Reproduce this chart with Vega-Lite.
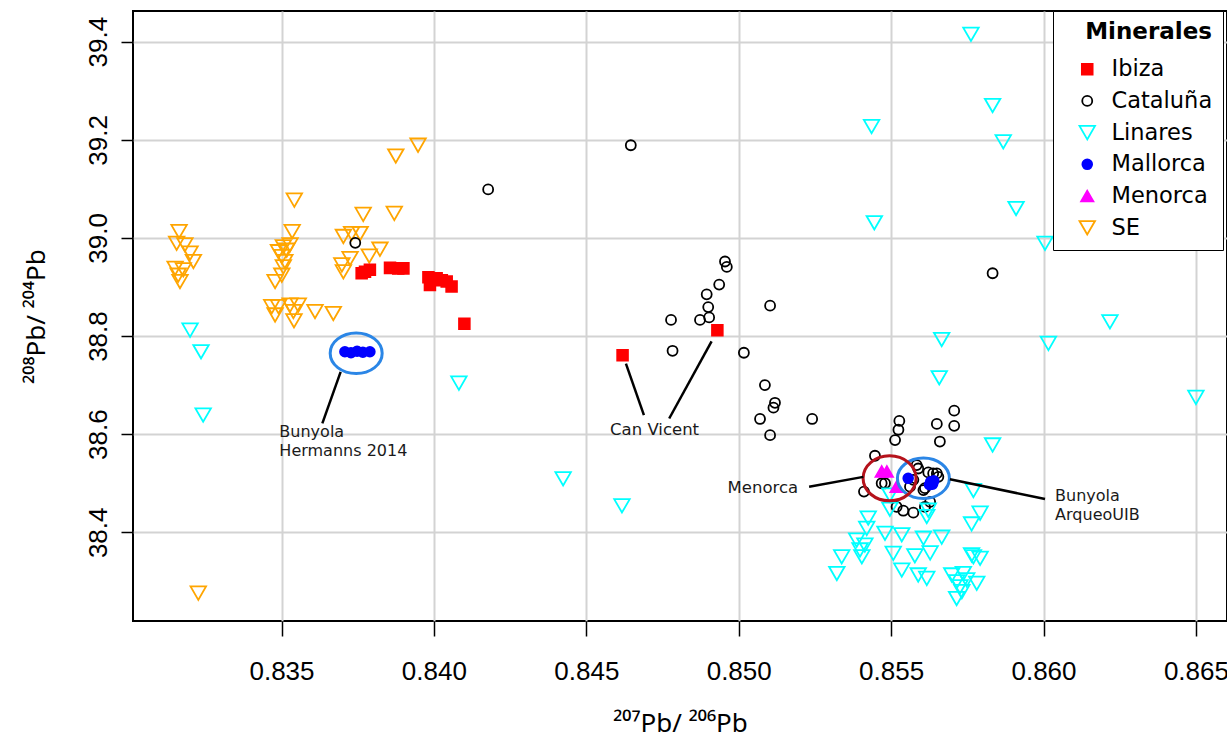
{
  "$schema": "https://vega.github.io/schema/vega-lite/v6.json",
  "width": 1094,
  "height": 610,
  "autosize": {"type": "none"},
  "padding": {"left": 133, "top": 11, "right": 0, "bottom": 121},
  "background": "white",
  "datasets": {
    "pts": [
      {"g":"SE","x":0.83875,"y":39.167},{"g":"SE","x":0.83948,"y":39.189},{"g":"SE","x":0.83542,"y":39.077},{"g":"SE","x":0.83768,"y":39.048},{"g":"SE","x":0.83870,"y":39.050},{"g":"SE","x":0.83164,"y":39.013},{"g":"SE","x":0.83535,"y":39.013},{"g":"SE","x":0.83703,"y":39.003},{"g":"SE","x":0.83730,"y":39.009},{"g":"SE","x":0.83758,"y":39.009},{"g":"SE","x":0.83156,"y":38.989},{"g":"SE","x":0.83183,"y":38.986},{"g":"SE","x":0.83200,"y":38.969},{"g":"SE","x":0.83211,"y":38.952},{"g":"SE","x":0.83151,"y":38.938},{"g":"SE","x":0.83178,"y":38.935},{"g":"SE","x":0.83161,"y":38.924},{"g":"SE","x":0.83167,"y":38.911},{"g":"SE","x":0.83528,"y":38.986},{"g":"SE","x":0.83506,"y":38.982},{"g":"SE","x":0.83490,"y":38.972},{"g":"SE","x":0.83517,"y":38.975},{"g":"SE","x":0.83501,"y":38.962},{"g":"SE","x":0.83511,"y":38.952},{"g":"SE","x":0.83506,"y":38.941},{"g":"SE","x":0.83501,"y":38.924},{"g":"SE","x":0.83479,"y":38.911},{"g":"SE","x":0.83823,"y":38.977},{"g":"SE","x":0.83788,"y":38.963},{"g":"SE","x":0.83725,"y":38.958},{"g":"SE","x":0.83698,"y":38.945},{"g":"SE","x":0.83703,"y":38.931},{"g":"SE","x":0.83468,"y":38.860},{"g":"SE","x":0.83490,"y":38.860},{"g":"SE","x":0.83479,"y":38.843},{"g":"SE","x":0.83528,"y":38.863},{"g":"SE","x":0.83555,"y":38.863},{"g":"SE","x":0.83539,"y":38.850},{"g":"SE","x":0.83541,"y":38.831},{"g":"SE","x":0.83610,"y":38.850},{"g":"SE","x":0.83670,"y":38.846},{"g":"SE","x":0.83227,"y":38.276},
      {"g":"Ibiza","x":0.83763,"y":38.928},{"g":"Ibiza","x":0.83774,"y":38.931},{"g":"Ibiza","x":0.83790,"y":38.935},{"g":"Ibiza","x":0.83856,"y":38.939},{"g":"Ibiza","x":0.83883,"y":38.938},{"g":"Ibiza","x":0.83900,"y":38.938},{"g":"Ibiza","x":0.83982,"y":38.920},{"g":"Ibiza","x":0.83987,"y":38.904},{"g":"Ibiza","x":0.84009,"y":38.918},{"g":"Ibiza","x":0.84026,"y":38.914},{"g":"Ibiza","x":0.84042,"y":38.911},{"g":"Ibiza","x":0.84058,"y":38.901},{"g":"Ibiza","x":0.84100,"y":38.825},{"g":"Ibiza","x":0.84619,"y":38.761},{"g":"Ibiza","x":0.84930,"y":38.812},
      {"g":"Cataluña","x":0.83742,"y":38.990},{"g":"Cataluña","x":0.84178,"y":39.099},{"g":"Cataluña","x":0.84646,"y":39.189},{"g":"Cataluña","x":0.84955,"y":38.952},{"g":"Cataluña","x":0.84961,"y":38.941},{"g":"Cataluña","x":0.84936,"y":38.905},{"g":"Cataluña","x":0.84895,"y":38.885},{"g":"Cataluña","x":0.84900,"y":38.859},{"g":"Cataluña","x":0.84873,"y":38.833},{"g":"Cataluña","x":0.84903,"y":38.838},{"g":"Cataluña","x":0.84778,"y":38.833},{"g":"Cataluña","x":0.84783,"y":38.770},{"g":"Cataluña","x":0.85103,"y":38.862},{"g":"Cataluña","x":0.85017,"y":38.766},{"g":"Cataluña","x":0.85086,"y":38.700},{"g":"Cataluña","x":0.85119,"y":38.664},{"g":"Cataluña","x":0.85114,"y":38.654},{"g":"Cataluña","x":0.85070,"y":38.631},{"g":"Cataluña","x":0.85103,"y":38.598},{"g":"Cataluña","x":0.85241,"y":38.631},{"g":"Cataluña","x":0.85527,"y":38.627},{"g":"Cataluña","x":0.85524,"y":38.609},{"g":"Cataluña","x":0.85513,"y":38.588},{"g":"Cataluña","x":0.85650,"y":38.621},{"g":"Cataluña","x":0.85707,"y":38.648},{"g":"Cataluña","x":0.85707,"y":38.617},{"g":"Cataluña","x":0.85660,"y":38.585},{"g":"Cataluña","x":0.85447,"y":38.556},{"g":"Cataluña","x":0.85411,"y":38.483},{"g":"Cataluña","x":0.85469,"y":38.500},{"g":"Cataluña","x":0.85480,"y":38.500},{"g":"Cataluña","x":0.85584,"y":38.537},{"g":"Cataluña","x":0.85589,"y":38.530},{"g":"Cataluña","x":0.85622,"y":38.522},{"g":"Cataluña","x":0.85638,"y":38.520},{"g":"Cataluña","x":0.85650,"y":38.520},{"g":"Cataluña","x":0.85655,"y":38.513},{"g":"Cataluña","x":0.85573,"y":38.507},{"g":"Cataluña","x":0.85606,"y":38.486},{"g":"Cataluña","x":0.85611,"y":38.490},{"g":"Cataluña","x":0.85518,"y":38.452},{"g":"Cataluña","x":0.85540,"y":38.444},{"g":"Cataluña","x":0.85573,"y":38.440},{"g":"Cataluña","x":0.85611,"y":38.452},{"g":"Cataluña","x":0.85628,"y":38.462},{"g":"Cataluña","x":0.85562,"y":38.493},{"g":"Cataluña","x":0.85833,"y":38.928},
      {"g":"Linares","x":0.83200,"y":38.812},{"g":"Linares","x":0.83236,"y":38.768},{"g":"Linares","x":0.83243,"y":38.639},{"g":"Linares","x":0.84082,"y":38.704},{"g":"Linares","x":0.84424,"y":38.509},{"g":"Linares","x":0.84617,"y":38.454},{"g":"Linares","x":0.85762,"y":39.415},{"g":"Linares","x":0.85833,"y":39.270},{"g":"Linares","x":0.85436,"y":39.227},{"g":"Linares","x":0.85868,"y":39.196},{"g":"Linares","x":0.85445,"y":39.031},{"g":"Linares","x":0.85910,"y":39.060},{"g":"Linares","x":0.86005,"y":38.989},{"g":"Linares","x":0.86218,"y":38.829},{"g":"Linares","x":0.86016,"y":38.785},{"g":"Linares","x":0.86500,"y":38.675},{"g":"Linares","x":0.85666,"y":38.793},{"g":"Linares","x":0.85658,"y":38.715},{"g":"Linares","x":0.85833,"y":38.578},{"g":"Linares","x":0.85770,"y":38.485},{"g":"Linares","x":0.85792,"y":38.439},{"g":"Linares","x":0.85764,"y":38.417},{"g":"Linares","x":0.85496,"y":38.476},{"g":"Linares","x":0.85425,"y":38.429},{"g":"Linares","x":0.85420,"y":38.408},{"g":"Linares","x":0.85496,"y":38.447},{"g":"Linares","x":0.85622,"y":38.445},{"g":"Linares","x":0.85617,"y":38.432},{"g":"Linares","x":0.85480,"y":38.398},{"g":"Linares","x":0.85535,"y":38.395},{"g":"Linares","x":0.85606,"y":38.388},{"g":"Linares","x":0.85666,"y":38.390},{"g":"Linares","x":0.85387,"y":38.384},{"g":"Linares","x":0.85414,"y":38.374},{"g":"Linares","x":0.85398,"y":38.364},{"g":"Linares","x":0.85404,"y":38.350},{"g":"Linares","x":0.85338,"y":38.350},{"g":"Linares","x":0.85322,"y":38.316},{"g":"Linares","x":0.85507,"y":38.357},{"g":"Linares","x":0.85578,"y":38.352},{"g":"Linares","x":0.85628,"y":38.358},{"g":"Linares","x":0.85535,"y":38.323},{"g":"Linares","x":0.85589,"y":38.313},{"g":"Linares","x":0.85617,"y":38.306},{"g":"Linares","x":0.85764,"y":38.354},{"g":"Linares","x":0.85770,"y":38.350},{"g":"Linares","x":0.85792,"y":38.347},{"g":"Linares","x":0.85699,"y":38.313},{"g":"Linares","x":0.85737,"y":38.316},{"g":"Linares","x":0.85748,"y":38.303},{"g":"Linares","x":0.85715,"y":38.299},{"g":"Linares","x":0.85726,"y":38.289},{"g":"Linares","x":0.85732,"y":38.279},{"g":"Linares","x":0.85715,"y":38.265},{"g":"Linares","x":0.85781,"y":38.296},
      {"g":"Mallorca","x":0.83708,"y":38.768},{"g":"Mallorca","x":0.83728,"y":38.766},{"g":"Mallorca","x":0.83748,"y":38.769},{"g":"Mallorca","x":0.83767,"y":38.767},{"g":"Mallorca","x":0.83790,"y":38.768},{"g":"Mallorca","x":0.85556,"y":38.510},{"g":"Mallorca","x":0.85630,"y":38.503},{"g":"Mallorca","x":0.85636,"y":38.498},{"g":"Mallorca","x":0.85626,"y":38.497},{"g":"Mallorca","x":0.85640,"y":38.505},
      {"g":"Menorca","x":0.85469,"y":38.524},{"g":"Menorca","x":0.85486,"y":38.524},{"g":"Menorca","x":0.85518,"y":38.493}
    ],
    "ellipses": [
      {"name":"Hermanns","x":0.83745,"y":38.765},
      {"name":"ArqueoUIB","x":0.85606,"y":38.510},
      {"name":"Menorca","x":0.85495,"y":38.510}
    ],
    "callouts": [
      {"x":0.83694,"y":38.727,"x2":0.83634,"y2":38.622},
      {"x":0.84630,"y":38.744,"x2":0.84689,"y2":38.639},
      {"x":0.84911,"y":38.789,"x2":0.84772,"y2":38.632},
      {"x":0.85231,"y":38.493,"x2":0.85409,"y2":38.513},
      {"x":0.85693,"y":38.508,"x2":0.86005,"y2":38.468}
    ],
    "labels": [
      {"t":"Bunyola","x":0.83493,"y":38.604,"pos":"left"},
      {"t":"Hermanns 2014","x":0.83493,"y":38.566,"pos":"left"},
      {"t":"Bunyola","x":0.86038,"y":38.474,"pos":"left"},
      {"t":"ArqueoUIB","x":0.86038,"y":38.436,"pos":"left"},
      {"t":"Can Vicent","x":0.84724,"y":38.609,"pos":"center"},
      {"t":"Menorca","x":0.85195,"y":38.490,"pos":"right"}
    ]
  },
  "layer": [
    {
      "data": {"name": "pts"},
      "mark": {"type": "point", "opacity": 1, "strokeWidth": 1.8},
      "encoding": {
        "x": {"field": "x", "type": "quantitative",
          "scale": {"domain": [0.830128, 0.86602], "nice": false, "zero": false},
          "axis": {"title": "²⁰⁷Pb/ ²⁰⁶Pb", "values": [0.835, 0.840, 0.845, 0.850, 0.855, 0.860, 0.865], "format": ".3f"}},
        "y": {"field": "y", "type": "quantitative",
          "scale": {"domain": [38.2192, 39.4626], "nice": false, "zero": false},
          "axis": {"title": "²⁰⁸Pb/ ²⁰⁴Pb", "values": [38.4, 38.6, 38.8, 39.0, 39.2, 39.4], "format": ".1f"}},
        "fill": {"field": "g", "type": "nominal", "title": "Minerales",
          "scale": {"domain": ["Ibiza", "Cataluña", "Linares", "Mallorca", "Menorca", "SE"],
                    "range": ["#ff0000", "transparent", "transparent", "#0000ff", "#ff00ff", "transparent"]}},
        "stroke": {"field": "g", "type": "nominal", "title": "Minerales",
          "scale": {"domain": ["Ibiza", "Cataluña", "Linares", "Mallorca", "Menorca", "SE"],
                    "range": ["#ff0000", "#000000", "#00ffff", "#0000ff", "#ff00ff", "#ffa500"]}},
        "shape": {"field": "g", "type": "nominal", "title": "Minerales",
          "scale": {"domain": ["Ibiza", "Cataluña", "Linares", "Mallorca", "Menorca", "SE"],
                    "range": ["square", "circle", "triangle-down", "circle", "triangle-up", "triangle-down"]}},
        "size": {"field": "g", "type": "nominal", "title": "Minerales",
          "scale": {"type": "ordinal", "domain": ["Ibiza", "Cataluña", "Linares", "Mallorca", "Menorca", "SE"],
                    "range": [115, 100, 240, 95, 150, 240]}}
      }
    },
    {
      "data": {"name": "ellipses"},
      "transform": [{"filter": "datum.name !== 'Menorca'"}],
      "mark": {"type": "point", "shape": "M-1,0A1,0.78,0,1,1,1,0A1,0.78,0,1,1,-1,0Z", "size": 2704, "filled": false, "stroke": "#2b86e6", "strokeWidth": 3, "opacity": 1},
      "encoding": {
        "x": {"field": "x", "type": "quantitative"},
        "y": {"field": "y", "type": "quantitative"}
      }
    },
    {
      "data": {"name": "ellipses"},
      "transform": [{"filter": "datum.name === 'Menorca'"}],
      "mark": {"type": "point", "shape": "M-1,0A1,0.85,0,1,1,1,0A1,0.85,0,1,1,-1,0Z", "size": 2809, "filled": false, "stroke": "#b5121b", "strokeWidth": 3, "opacity": 1},
      "encoding": {
        "x": {"field": "x", "type": "quantitative"},
        "y": {"field": "y", "type": "quantitative"}
      }
    },
    {
      "data": {"name": "callouts"},
      "mark": {"type": "rule", "color": "black", "strokeWidth": 2.5},
      "encoding": {
        "x": {"field": "x", "type": "quantitative"},
        "y": {"field": "y", "type": "quantitative"},
        "x2": {"field": "x2"},
        "y2": {"field": "y2"}
      }
    },
    {
      "data": {"name": "labels"},
      "transform": [{"filter": "datum.pos === 'left'"}],
      "mark": {"type": "text", "align": "left", "baseline": "middle", "font": "DejaVu Sans", "fontSize": 16, "color": "#1a1a1a"},
      "encoding": {
        "x": {"field": "x", "type": "quantitative"},
        "y": {"field": "y", "type": "quantitative"},
        "text": {"field": "t"}
      }
    },
    {
      "data": {"name": "labels"},
      "transform": [{"filter": "datum.pos === 'center'"}],
      "mark": {"type": "text", "align": "center", "baseline": "middle", "font": "DejaVu Sans", "fontSize": 16.5, "color": "#1a1a1a"},
      "encoding": {
        "x": {"field": "x", "type": "quantitative"},
        "y": {"field": "y", "type": "quantitative"},
        "text": {"field": "t"}
      }
    },
    {
      "data": {"name": "labels"},
      "transform": [{"filter": "datum.pos === 'right'"}],
      "mark": {"type": "text", "align": "right", "baseline": "middle", "font": "DejaVu Sans", "fontSize": 16.5, "color": "#1a1a1a"},
      "encoding": {
        "x": {"field": "x", "type": "quantitative"},
        "y": {"field": "y", "type": "quantitative"},
        "text": {"field": "t"}
      }
    }
  ],
  "config": {
    "view": {"stroke": "black", "strokeWidth": 2},
    "axis": {
      "domain": false, "grid": true, "gridColor": "#d3d3d3", "gridWidth": 2,
      "tickColor": "black", "tickWidth": 1.5,
      "labelColor": "black", "labelFont": "Liberation Sans", "labelFontSize": 26,
      "titleFont": "Noto Sans", "titleFontSize": 26, "titleFontWeight": "normal", "titleColor": "black",
      "labelFlush": false, "labelOverlap": false
    },
    "axisX": {"tickSize": 15, "labelPadding": 22, "titlePadding": 26},
    "axisY": {"tickSize": 12, "labelPadding": 10, "labelAngle": 270, "labelAlign": "center", "labelBaseline": "bottom", "titlePadding": 36},
    "legend": {
      "orient": "none", "legendX": 920, "legendY": 0,
      "fillColor": "white", "strokeColor": "black", "padding": 10,
      "titleFont": "DejaVu Sans", "titleFontSize": 23, "titleFontWeight": "bold", "titleColor": "black",
      "titleAnchor": "end", "titlePadding": 14,
      "labelFont": "DejaVu Sans", "labelFontSize": 22.5, "labelColor": "black",
      "labelOffset": 13, "rowPadding": 8.7, "symbolOffset": 13, "symbolStrokeWidth": 1.8
    }
  }
}
